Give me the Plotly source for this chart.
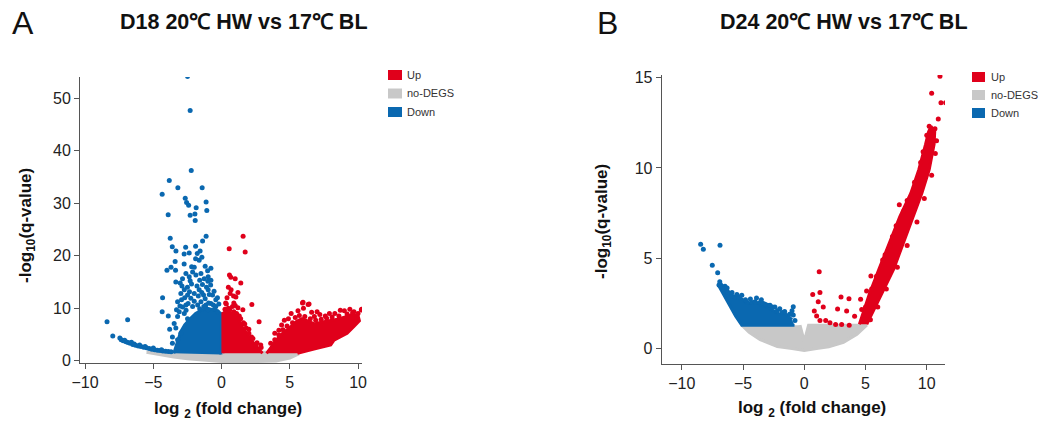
import plotly.graph_objects as go

RED = "#E0001B"
BLUE = "#0A68B0"
GRAY = "#C8C8C8"
FONT = "Liberation Sans, Arial, sans-serif"

# ---------------- Panel A (D18) data ----------------
A_gray_x = [-5.5, -4.5, -3.5, -2.5, -1.5, 0.0, 2.0, 4.0, 5.0, 5.6, 5.6, 0.0, -5.5]
A_gray_y = [1.6, 1.1, 0.7, 0.35, 0.1, -0.15, -0.2, -0.05, 0.5, 1.2, 1.6, 1.6, 1.6]

A_blue_poly_x = [-0.05, -0.05, -0.3, -0.7, -1.1, -1.5, -1.9, -2.3, -2.7, -3.0, -3.2, -3.4, -3.5]
A_blue_poly_y = [1.2, 9.0, 9.5, 9.8, 10.0, 9.6, 9.0, 8.0, 6.8, 5.5, 4.0, 2.5, 1.4]

A_red1_poly_x = [0.1, 0.1, 0.4, 0.8, 1.2, 1.5, 1.9, 2.3, 2.7, 3.0]
A_red1_poly_y = [1.4, 9.0, 9.5, 9.0, 8.0, 6.5, 5.0, 3.5, 2.3, 1.4]

A_red2_poly_x = [3.3, 3.7, 4.1, 4.5, 5.0, 5.5, 5.9, 6.3, 6.8, 7.3, 7.9, 8.5, 9.0, 9.5, 10.0, 10.1,
                 9.7, 9.2, 8.24, 8.0, 6.77, 5.56]
A_red2_poly_y = [1.4, 2.8, 4.2, 5.3, 6.3, 7.5, 8.0, 7.6, 7.0, 7.3, 7.6, 7.9, 8.3, 8.7, 8.6, 7.6,
                 6.5, 5.2, 3.9, 3.0, 2.2, 1.4]

A_blue_x = [-2.49, -2.30, -2.22, -3.83, -3.20, -1.42, -4.35, -2.66, -2.56, -2.41, -1.13, -1.86,
            -1.08, -2.30, -1.95, -3.91, -1.93, -1.13, -3.76, -1.39, -3.61, -3.34, -2.63, -1.90,
            -2.74, -2.37, -1.78, -1.57, -1.90, -1.64, -1.44, -4.00, -3.37, -2.74, -2.19, -0.78,
            -1.02, -4.32, -4.35, -8.39, -6.88, -7.97,
            -3.35, -3.03, -2.86, -2.61, -2.37, -2.12, -1.88, -1.51, -1.27, -0.98, -0.78, -2.98,
            -2.73, -2.49, -2.25, -2.00, -1.64, -1.32, -0.98, -0.66, -0.42, -3.22, -2.93, -2.61,
            -2.12, -1.51, -1.15, -0.78, -3.47, -3.35, -3.22, -3.10, -2.73, -2.49, -0.42, -0.30,
            -2.98, -3.22,
            -2.9, -2.5, -2.2, -1.8, -1.4, -1.1, -0.8, -2.7, -2.35, -1.7, -1.45, -1.2, -0.9, -0.55,
            -0.3, -2.85, -2.45, -2.0, -1.75, -1.3, -0.95, -0.6, -0.2, -3.3, -3.05, -2.6, -1.6,
            -1.0, -0.5, -2.3, -1.6, -1.0, -2.0, -1.2, -3.4, -3.7, -3.9, -3.8, -3.6, -3.6,
            -7.45, -7.35, -7.2, -7.0, -6.85, -6.7, -6.5, -6.3, -6.1, -5.9, -5.7, -5.5, -5.3, -5.1,
            -4.9, -4.7, -4.5, -4.3, -4.1, -3.9, -3.7, -6.6, -6.0, -5.6, -5.0, -4.4, -7.1, -6.4]
A_blue_y = [54.1, 47.6, 36.2, 34.3, 32.9, 32.9, 31.7, 30.9, 30.1, 29.6, 30.2, 29.1,
            28.6, 27.7, 27.9, 27.8, 26.7, 23.7, 23.3, 22.8, 21.7, 20.9, 21.6, 21.8,
            20.3, 20.5, 20.4, 20.9, 19.4, 19.1, 19.7, 17.2, 17.2, 18.4, 17.9, 17.6,
            17.1, 12.0, 9.3, 7.4, 7.8, 4.7,
            15.0, 14.8, 15.6, 16.6, 16.0, 16.9, 16.3, 16.6, 15.6, 16.0, 15.3, 12.8,
            13.5, 12.5, 11.9, 12.8, 13.5, 12.5, 13.5, 12.5, 11.6, 11.2, 11.6, 10.6,
            10.3, 11.2, 10.6, 10.9, 7.1, 6.2, 8.4, 9.3, 9.0, 8.0, 10.3, 9.3,
            5.2, 4.0,
            14.2, 14.0, 14.6, 14.2, 14.5, 14.0, 14.4, 12.0, 13.1, 12.3, 13.0, 11.8, 12.6, 13.2,
            12.0, 10.2, 10.9, 11.3, 10.6, 10.3, 11.0, 10.6, 10.8, 9.7, 10.4, 9.6, 9.9,
            9.7, 9.9, 15.2, 15.3, 15.1, 17.8, 18.0, 18.9, 17.8, 8.5, 6.0, 4.5, 3.3,
            4.3, 4.0, 3.8, 3.6, 3.45, 3.3, 3.1, 2.95, 2.8, 2.7, 2.55, 2.45, 2.3, 2.2,
            2.1, 2.0, 1.95, 1.85, 1.8, 1.75, 1.7, 3.5, 3.0, 2.7, 2.4, 2.1, 3.9, 3.2]

A_red_x = [1.58, 0.56, 1.73, 0.58, 0.68, 1.00, 1.41, 0.63, 0.88, 1.05, 0.80, 2.22, 1.56, 2.75,
           2.87, 2.51, 0.3, 0.5, 1.0, 1.3, 1.7, 2.0, 2.2, 2.5, 0.7, 0.4,
           0.25, 0.6, 0.9, 1.1, 1.4, 1.6, 1.8, 2.0, 2.3, 2.6, 2.9, 0.35, 0.9, 1.2, 0.5, 1.2,
           5.93, 6.41, 5.97, 6.34, 10.24, 10.26, 5.1, 7.0, 8.3, 9.0, 9.7, 4.6, 6.8, 7.6, 4.2,
           3.6, 3.9, 4.2, 4.5, 4.8, 5.2, 5.4, 5.7, 6.1, 6.5, 6.9, 7.3, 7.7, 8.1, 8.6, 9.2, 9.6,
           10.0, 4.9, 5.6, 6.6, 7.9, 8.7, 9.4, 6.0, 7.2, 3.9, 4.4]
A_red_y = [23.7, 21.3, 20.7, 16.3, 15.9, 15.6, 14.8, 12.8, 12.3, 12.1, 10.3, 10.7, 9.7, 7.4,
           3.0, 2.7, 11.0, 10.0, 10.5, 8.5, 7.0, 6.0, 4.5, 3.0, 13.5, 12.0,
           9.8, 9.7, 9.3, 9.0, 8.0, 7.2, 6.2, 5.2, 4.2, 3.4, 2.5, 10.8, 11.0, 10.1, 14.0, 13.0,
           11.0, 10.8, 11.1, 10.7, 9.65, 9.8, 9.0, 9.3, 9.0, 9.5, 9.3, 7.7, 8.4, 8.5, 5.8,
           3.3, 4.0, 4.9, 5.9, 6.6, 7.2, 8.2, 8.6, 8.4, 8.0, 7.7, 7.9, 8.1, 8.3, 8.5, 8.9, 9.1,
           9.0, 8.0, 9.5, 9.2, 9.0, 9.6, 9.8, 10.0, 8.8, 5.2, 6.8]

# ---------------- Panel B (D24) data ----------------
B_gray_x = [-5.1, -4.5, -3.6, -2.2, -1.0, 0.0, 1.0, 2.0, 3.2, 4.3, 5.1, 0.35, 0.0, -0.35]
B_gray_y = [1.3, 0.9, 0.5, 0.12, 0.0, -0.1, 0.0, 0.1, 0.35, 0.8, 1.3, 1.3, 0.4, 1.3]

B_blue_poly_x = [-0.8, -5.1, -5.6, -6.2, -6.7, -7.0, -6.8, -6.3, -5.8, -5.2, -4.6, -4.0, -3.5,
                 -3.0, -2.5, -2.0, -1.5, -1.0]
B_blue_poly_y = [1.3, 1.3, 1.8, 2.5, 3.1, 3.5, 3.6, 3.1, 2.9, 2.8, 2.5, 2.6, 2.4,
                 2.3, 2.1, 1.9, 1.9, 1.6]

B_red_poly_x = [4.5, 5.3, 6.1, 6.9, 7.8, 8.7, 9.35, 9.9, 10.15, 10.35, 10.65, 10.6, 10.2, 9.6,
                8.9, 8.1, 7.3, 6.3, 5.6, 5.1]
B_red_poly_y = [1.35, 3.0, 4.4, 5.8, 7.3, 8.6, 9.9, 11.3, 12.0, 12.3, 12.0, 11.3, 9.9, 8.6,
                7.3, 5.8, 4.4, 3.0, 2.0, 1.35]

B_blue_x = [-8.46, -8.24, -6.88, -7.51, -7.07, -6.96, -6.61, -6.47, -6.25, -5.93, -5.66, -5.33,
            -4.65, -4.29, -4.02, -3.62, -3.35, -0.9, -0.9, -0.76, -3.0, -2.6, -2.2, -1.8,
            -6.9, -6.6, -6.3, -5.9, -5.5, -5.1, -4.8, -4.4, -3.9, -3.5, -3.2, -2.8, -2.4, -2.0,
            -1.6, -1.2, -1.0]
B_blue_y = [5.78, 5.5, 5.72, 4.61, 4.2, 3.52, 3.41, 3.45, 3.13, 2.91, 2.86, 2.86,
            2.55, 2.55, 2.6, 2.55, 2.5, 2.32, 1.86, 1.56, 2.4, 2.3, 2.1, 2.0,
            3.7, 3.3, 3.35, 3.1, 3.0, 2.95, 2.7, 2.75, 2.8, 2.7, 2.45, 2.4, 2.3, 2.2,
            2.05, 1.9, 2.1]

B_red_x = [11.08, 10.4, 11.16, 11.54, 10.94, 10.67, 10.53, 10.12, 10.2, 7.76, 7.0, 5.44, 5.91,
           5.09, 4.6, 4.69, 4.11, 3.67, 1.22, 0.69, 1.28, 1.14, 1.55, 3.0, 3.65, 2.72, 3.46,
           0.82, 1.01, 1.28, 1.75, 2.1, 2.56, 3.05,
           5.0, 5.5, 5.9, 6.4, 6.6, 7.2, 7.5, 8.1, 8.4, 9.0, 9.5, 9.7, 10.0, 10.2,
           5.4, 6.0, 6.7, 7.6, 8.4, 9.2, 9.8, 10.4, 10.7, 10.8]
B_red_y = [15.07, 14.13, 13.6, 13.6, 12.7, 12.16, 11.97, 11.73, 11.55, 7.96, 5.68, 4.02, 3.89,
           3.19, 2.73, 2.17, 1.79, 1.3, 4.26, 3.0, 3.1, 2.6, 2.3, 2.86, 2.76, 2.19, 2.08,
           2.08, 1.8, 1.56, 1.56, 1.43, 1.34, 1.34,
           2.3, 3.3, 4.0, 4.9, 5.2, 6.2, 6.8, 7.6, 8.2, 9.2, 10.3, 10.9, 11.8, 12.3,
           1.6, 2.3, 3.3, 4.5, 5.7, 7.0, 8.3, 9.6, 10.8, 11.5]

legend_labels = ["Up", "no-DEGS", "Down"]
legend_colors = [RED, GRAY, BLUE]

W, H = 1038, 424


def px(x):
    return x / W


def py(y):
    return 1 - y / H


fig = go.Figure()


def add_poly(xs, ys, color, xa, ya):
    fig.add_trace(go.Scatter(x=xs, y=ys, fill="toself", fillcolor=color, mode="lines",
                             line=dict(color=color, width=3), hoverinfo="skip",
                             showlegend=False, xaxis=xa, yaxis=ya))


def add_pts(xs, ys, color, xa, ya):
    fig.add_trace(go.Scatter(x=xs, y=ys, mode="markers",
                             marker=dict(color=color, size=5, line=dict(width=0)),
                             showlegend=False, xaxis=xa, yaxis=ya))


# Panel A
add_poly(A_gray_x, A_gray_y, GRAY, "x", "y")
add_poly(A_blue_poly_x, A_blue_poly_y, BLUE, "x", "y")
add_poly(A_red1_poly_x, A_red1_poly_y, RED, "x", "y")
add_poly(A_red2_poly_x, A_red2_poly_y, RED, "x", "y")
add_pts(A_blue_x, A_blue_y, BLUE, "x", "y")
add_pts(A_red_x, A_red_y, RED, "x", "y")

# Panel B
add_poly(B_gray_x, B_gray_y, GRAY, "x2", "y2")
add_poly(B_blue_poly_x, B_blue_poly_y, BLUE, "x2", "y2")
add_poly(B_red_poly_x, B_red_poly_y, RED, "x2", "y2")
add_pts(B_blue_x, B_blue_y, BLUE, "x2", "y2")
add_pts(B_red_x, B_red_y, RED, "x2", "y2")

axis_common = dict(showline=True, linecolor="#555555", linewidth=1, ticks="outside", ticklen=5,
                   tickcolor="#555555", showgrid=False, zeroline=False, automargin=False,
                   tickfont=dict(family=FONT, size=16, color="#222222"))

fig.update_layout(
    template="none",
    width=W, height=H, margin=dict(l=0, r=0, t=0, b=0, pad=0), autosize=False,
    paper_bgcolor="white", plot_bgcolor="white", showlegend=False,
    xaxis=dict(domain=[px(80), px(362)], range=[-10.37, 10.29], tickvals=[-10, -5, 0, 5, 10],
               anchor="y", **axis_common),
    yaxis=dict(domain=[py(363), py(77)], range=[-0.44, 54.0], tickvals=[0, 10, 20, 30, 40, 50],
               anchor="x", **axis_common),
    xaxis2=dict(domain=[px(661.7), px(945)], range=[-11.64, 11.49], tickvals=[-10, -5, 0, 5, 10],
                anchor="y2", **axis_common),
    yaxis2=dict(domain=[py(364), py(75)], range=[-0.85, 15.14], tickvals=[0, 5, 10, 15],
                anchor="x2", **axis_common),
)

ann = []
# panel letters
ann.append(dict(text="A", x=px(23), y=py(23), font=dict(family=FONT, size=32, color="#111")))
ann.append(dict(text="B", x=px(607), y=py(23), font=dict(family=FONT, size=32, color="#111")))
# titles
ann.append(dict(text="<b>D18 20℃ HW vs 17℃ BL</b>", x=px(244), y=py(22),
                font=dict(family=FONT, size=21.5, color="#111")))
ann.append(dict(text="<b>D24 20℃ HW vs 17℃ BL</b>", x=px(844), y=py(22),
                font=dict(family=FONT, size=21.5, color="#111")))
# axis titles
xt = "<b>log <sub>2</sub> (fold change)</b>"
yt = "<b>-log<sub>10</sub>(q-value)</b>"
ann.append(dict(text=xt, x=px(227.5), y=py(410), font=dict(family=FONT, size=17, color="#111")))
ann.append(dict(text=xt, x=px(811.7), y=py(409), font=dict(family=FONT, size=17, color="#111")))
ann.append(dict(text=yt, x=px(27), y=py(226), textangle=-90,
                font=dict(family=FONT, size=17, color="#111")))
ann.append(dict(text=yt, x=px(603), y=py(222), textangle=-90,
                font=dict(family=FONT, size=17, color="#111")))

shapes = []
# legends
for (bx0, bx1, tx, tops) in [(388, 402, 405, [70, 88.5, 107]), (972, 985, 989, [72, 90, 108])]:
    for lab, col, t in zip(legend_labels, legend_colors, tops):
        shapes.append(dict(type="rect", xref="paper", yref="paper", x0=px(bx0), x1=px(bx1),
                           y0=py(t + 10), y1=py(t), fillcolor=col, line=dict(width=0)))
        ann.append(dict(text=lab, x=px(tx), y=py(t + 5), xanchor="left",
                        font=dict(family=FONT, size=11, color="#333333")))

for a in ann:
    a.setdefault("xref", "paper")
    a.setdefault("yref", "paper")
    a.setdefault("showarrow", False)
    a.setdefault("xanchor", "center")
    a.setdefault("yanchor", "middle")

fig.update_layout(annotations=ann, shapes=shapes)
fig.write_html("out.html", config={"responsive": False, "displayModeBar": False},
               post_script="document.body.style.margin='0';document.body.style.overflow='hidden';")
